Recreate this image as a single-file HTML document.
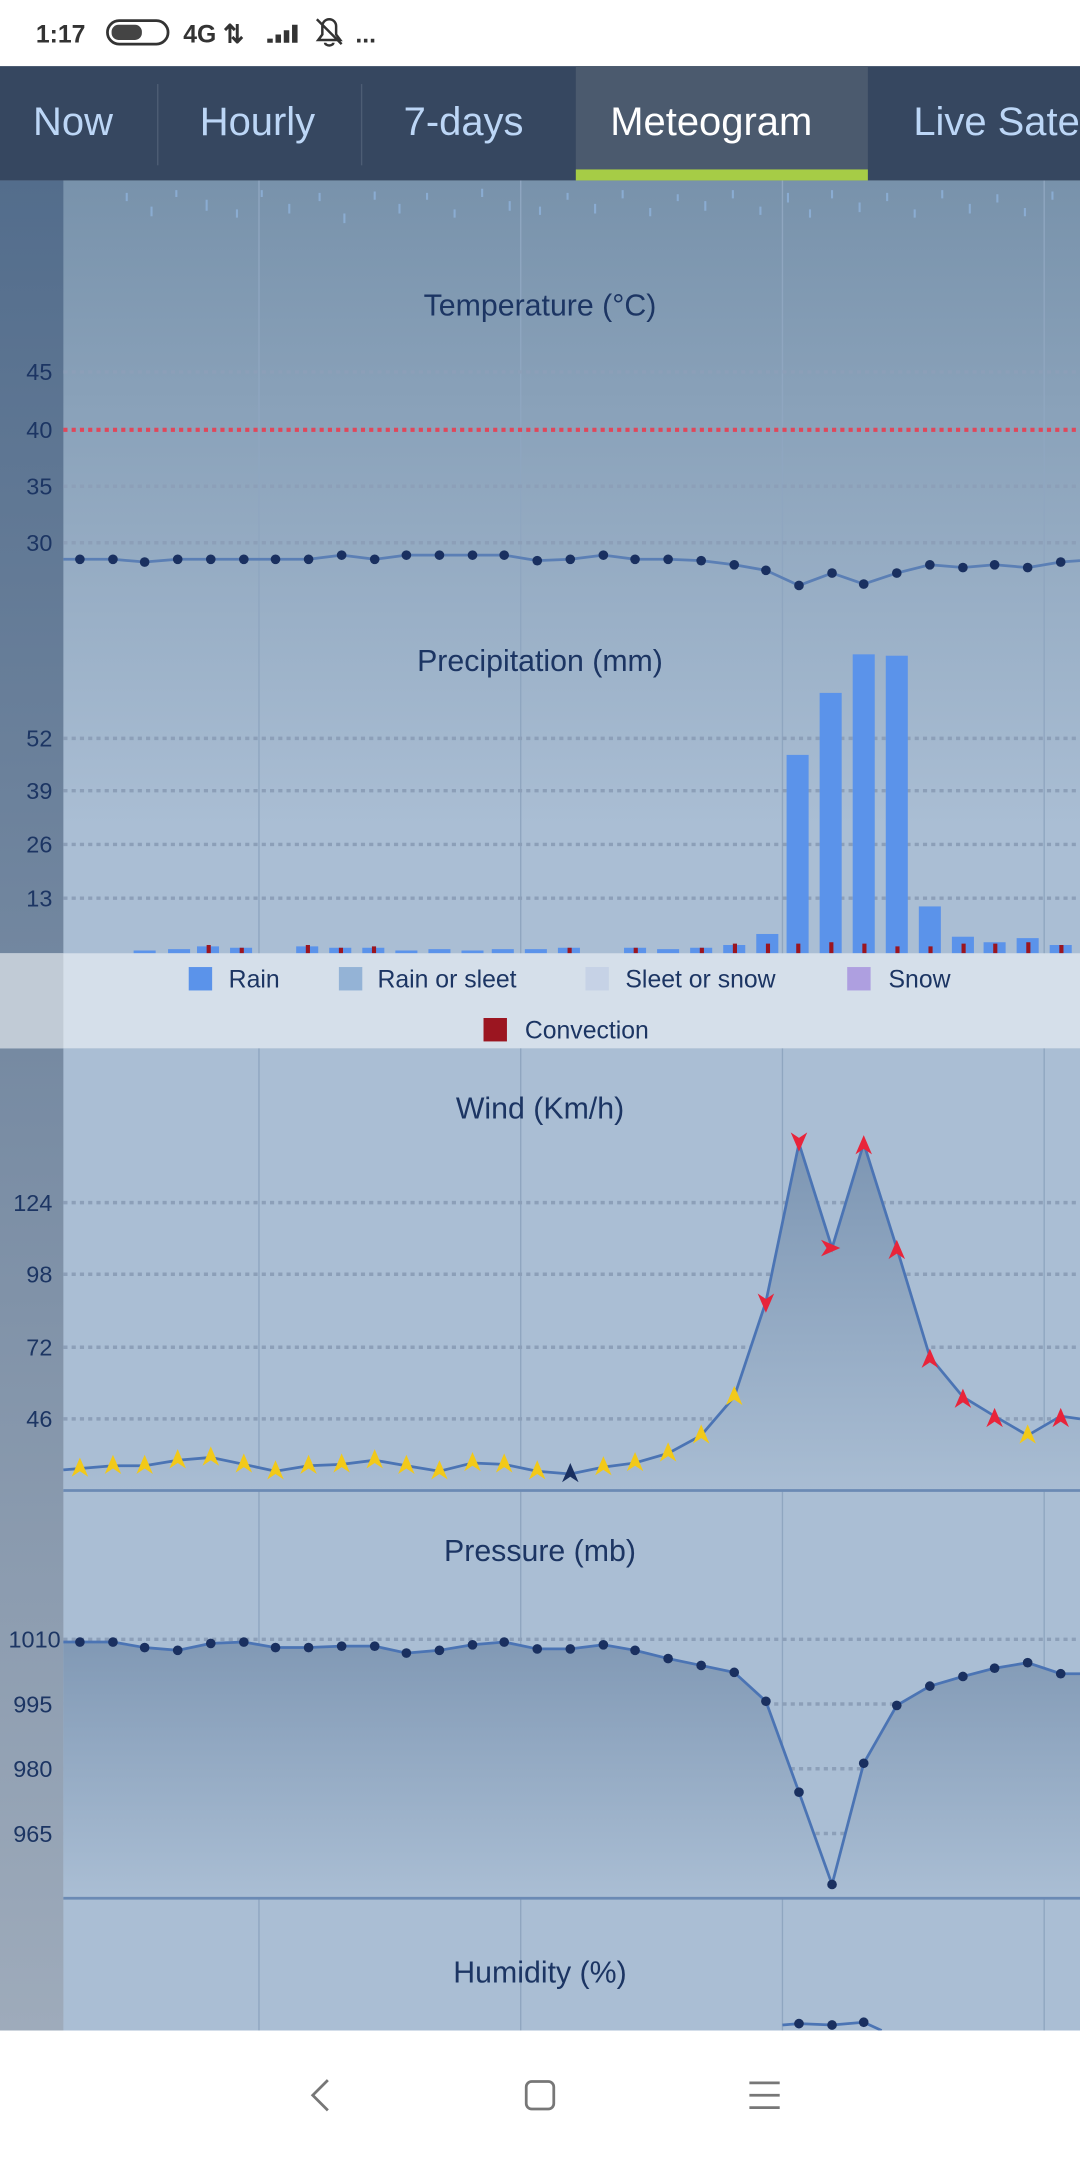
<!DOCTYPE html>
<html><head><meta charset="utf-8"><style>
html,body{margin:0;padding:0;background:#fff;}
svg{display:block;font-family:"Liberation Sans",sans-serif;}
</style></head><body>
<svg width="1080" height="2160" viewBox="0 0 784 1568" xmlns="http://www.w3.org/2000/svg">
<defs>
<linearGradient id="bg" x1="0" y1="0" x2="0" y2="1">
<stop offset="0" stop-color="#7892ab"/><stop offset="0.35" stop-color="#aabed4"/><stop offset="1" stop-color="#aabed4"/>
</linearGradient>
<linearGradient id="ax" x1="0" y1="0" x2="0" y2="1">
<stop offset="0" stop-color="#536d8c"/><stop offset="1" stop-color="#9eabbb"/>
</linearGradient>
<linearGradient id="wf" x1="0" y1="0" x2="0" y2="1">
<stop offset="0" stop-color="#7d96b3"/><stop offset="1" stop-color="#a9bdd3"/>
</linearGradient>
<linearGradient id="pf" x1="0" y1="0" x2="0" y2="1">
<stop offset="0" stop-color="#8199b5"/><stop offset="1" stop-color="#aabed4"/>
</linearGradient>
</defs>
<rect x="0" y="0" width="784" height="48" fill="#fff"/>
<text x="26" y="31" font-size="18" font-weight="bold" fill="#333">1:17</text>
<rect x="78" y="15" width="44" height="17" rx="8.5" fill="none" stroke="#333" stroke-width="2"/>
<rect x="81" y="18" width="22" height="11" rx="5" fill="#444"/>
<text x="133" y="31" font-size="18" font-weight="bold" fill="#333">4G</text>
<text x="162" y="31" font-size="18" font-weight="bold" fill="#333">⇅</text>
<path d="M194 31 h4 v-3 h-4z M200 31 h4 v-6 h-4z M206 31 h4 v-9 h-4z M212 31 h4 v-13 h-4z" fill="#333"/>
<path d="M231 29 h16 l-3-4 v-6 a5 5 0 0 0-10 0 v6z M236 31 a3 2 0 0 0 6 0 M230 14 l18 18" fill="none" stroke="#333" stroke-width="1.8"/>
<text x="258" y="31" font-size="18" font-weight="bold" fill="#333">...</text>
<rect x="0" y="131" width="784" height="1343" fill="url(#bg)"/>
<rect x="0" y="131" width="46" height="1343" fill="url(#ax)"/>
<rect x="0" y="48" width="784" height="83" fill="#364760"/>
<rect x="418" y="48" width="212" height="83" fill="#4b5a6e"/>
<rect x="418" y="123" width="212" height="8" fill="#a6cc46"/>
<line x1="114.5" y1="61" x2="114.5" y2="120" stroke="#4d5d74"/>
<line x1="262.5" y1="61" x2="262.5" y2="120" stroke="#4d5d74"/>
<g font-size="29" fill="#bcd6f6">
<text x="24" y="98">Now</text><text x="145" y="98">Hourly</text><text x="293" y="98">7-days</text>
<text x="443" y="98" fill="#fff">Meteogram</text><text x="663" y="98">Live Satellite</text>
</g>
<g stroke="#8fb3dc" stroke-width="1.5" opacity="0.8">
<path d="M92 140v6M110 150v7M128 138v5M150 145v8M172 152v6M190 138v5M210 148v7M232 140v6M250 155v7M272 139v6M290 148v7M310 140v5M330 152v6M350 137v6M370 146v7M392 150v6M412 140v5M432 148v7M452 138v6M472 151v6M492 141v5M512 146v7M532 138v6M552 150v6M572 140v7M588 152v6M604 138v6M624 147v7M644 140v6M664 152v6M684 138v6M704 148v7M724 141v6M744 151v6M764 139v6"/>
</g>
<g stroke="#8fa6c0" stroke-width="1">
<line x1="188" y1="131" x2="188" y2="1474"/><line x1="378" y1="131" x2="378" y2="1474"/>
<line x1="568" y1="131" x2="568" y2="1474"/><line x1="758" y1="131" x2="758" y2="1474"/>
</g>
<g font-size="22" fill="#1c3563" text-anchor="middle">
<text x="392" y="229">Temperature (°C)</text>
<text x="392" y="487">Precipitation (mm)</text>
<text x="392" y="812">Wind (Km/h)</text>
<text x="392" y="1133">Pressure (mb)</text>
<text x="392" y="1439">Humidity (%)</text>
</g>
<g stroke="#8c9fb8" stroke-width="2.5" stroke-dasharray="3 3">
<line x1="46" y1="270" x2="784" y2="270"/><line x1="46" y1="353" x2="784" y2="353"/><line x1="46" y1="394" x2="784" y2="394"/>
<line x1="46" y1="536" x2="784" y2="536"/><line x1="46" y1="574" x2="784" y2="574"/><line x1="46" y1="613" x2="784" y2="613"/><line x1="46" y1="652" x2="784" y2="652"/>
<line x1="46" y1="873" x2="784" y2="873"/><line x1="46" y1="925" x2="784" y2="925"/><line x1="46" y1="978" x2="784" y2="978"/><line x1="46" y1="1030" x2="784" y2="1030"/>
<line x1="46" y1="1190" x2="784" y2="1190"/><line x1="46" y1="1237" x2="784" y2="1237"/><line x1="46" y1="1284" x2="784" y2="1284"/><line x1="46" y1="1331" x2="784" y2="1331"/>
</g>
<line x1="46" y1="312" x2="784" y2="312" stroke="#e0475a" stroke-width="3" stroke-dasharray="3 3"/>
<g font-size="17" fill="#1c3563" text-anchor="end">
<text x="38" y="276">45</text><text x="38" y="318">40</text><text x="38" y="359">35</text><text x="38" y="400">30</text>
<text x="38" y="542">52</text><text x="38" y="580">39</text><text x="38" y="619">26</text><text x="38" y="658">13</text>
<text x="38" y="879">124</text><text x="38" y="931">98</text><text x="38" y="984">72</text><text x="38" y="1036">46</text>
<text x="44" y="1196">1010</text><text x="38" y="1243">995</text><text x="38" y="1290">980</text><text x="38" y="1337">965</text>
</g>
<polyline fill="none" stroke="#5b7fb5" stroke-width="2" points="46,406 58,406 82,406 105,408 129,406 153,406 177,406 200,406 224,406 248,403 272,406 295,403 319,403 343,403 366,403 390,407 414,406 438,403 461,406 485,406 509,407 533,410 556,414 580,425 604,416 627,424 651,416 675,410 699,412 722,410 746,412 770,408 784,407"/>
<g fill="#1a3060">
<circle cx="58" cy="406" r="3.5"/><circle cx="82" cy="406" r="3.5"/><circle cx="105" cy="408" r="3.5"/><circle cx="129" cy="406" r="3.5"/><circle cx="153" cy="406" r="3.5"/><circle cx="177" cy="406" r="3.5"/><circle cx="200" cy="406" r="3.5"/><circle cx="224" cy="406" r="3.5"/><circle cx="248" cy="403" r="3.5"/><circle cx="272" cy="406" r="3.5"/><circle cx="295" cy="403" r="3.5"/><circle cx="319" cy="403" r="3.5"/><circle cx="343" cy="403" r="3.5"/><circle cx="366" cy="403" r="3.5"/><circle cx="390" cy="407" r="3.5"/><circle cx="414" cy="406" r="3.5"/><circle cx="438" cy="403" r="3.5"/><circle cx="461" cy="406" r="3.5"/><circle cx="485" cy="406" r="3.5"/><circle cx="509" cy="407" r="3.5"/><circle cx="533" cy="410" r="3.5"/><circle cx="556" cy="414" r="3.5"/><circle cx="580" cy="425" r="3.5"/><circle cx="604" cy="416" r="3.5"/><circle cx="627" cy="424" r="3.5"/><circle cx="651" cy="416" r="3.5"/><circle cx="675" cy="410" r="3.5"/><circle cx="699" cy="412" r="3.5"/><circle cx="722" cy="410" r="3.5"/><circle cx="746" cy="412" r="3.5"/><circle cx="770" cy="408" r="3.5"/>
</g>
<g fill="#5b93ea">
<rect x="97" y="690" width="16" height="2"/><rect x="122" y="689" width="16" height="3"/><rect x="143" y="687" width="16" height="5"/><rect x="167" y="688" width="16" height="4"/>
<rect x="215" y="687" width="16" height="5"/><rect x="239" y="688" width="16" height="4"/><rect x="263" y="688" width="16" height="4"/><rect x="287" y="690" width="16" height="2"/>
<rect x="311" y="689" width="16" height="3"/><rect x="335" y="690" width="16" height="2"/><rect x="357" y="689" width="16" height="3"/><rect x="381" y="689" width="16" height="3"/><rect x="405" y="688" width="16" height="4"/>
<rect x="453" y="688" width="16" height="4"/><rect x="477" y="689" width="16" height="3"/><rect x="501" y="688" width="16" height="4"/><rect x="525" y="686" width="16" height="6"/><rect x="549" y="678" width="16" height="14"/>
<rect x="571" y="548" width="16" height="144"/><rect x="595" y="503" width="16" height="189"/><rect x="619" y="475" width="16" height="217"/><rect x="643" y="476" width="16" height="216"/>
<rect x="667" y="658" width="16" height="34"/><rect x="691" y="680" width="16" height="12"/><rect x="714" y="684" width="16" height="8"/><rect x="738" y="681" width="16" height="11"/><rect x="762" y="686" width="16" height="6"/>
</g>
<g fill="#9b1520">
<rect x="150" y="686" width="3" height="6"/><rect x="174" y="688" width="3" height="4"/><rect x="222" y="686" width="3" height="6"/><rect x="246" y="688" width="3" height="4"/><rect x="270" y="687" width="3" height="5"/>
<rect x="412" y="688" width="3" height="4"/><rect x="460" y="688" width="3" height="4"/><rect x="508" y="688" width="3" height="4"/><rect x="532" y="685" width="3" height="7"/><rect x="556" y="685" width="3" height="7"/>
<rect x="578" y="685" width="3" height="7"/><rect x="602" y="684" width="3" height="8"/><rect x="626" y="685" width="3" height="7"/><rect x="650" y="687" width="3" height="5"/><rect x="674" y="687" width="3" height="5"/>
<rect x="698" y="685" width="3" height="7"/><rect x="721" y="685" width="3" height="7"/><rect x="745" y="684" width="3" height="8"/><rect x="769" y="686" width="3" height="6"/>
</g>
<rect x="0" y="692" width="784" height="69" fill="#d5dfea"/>
<rect x="0" y="692" width="46" height="69" fill="#c1cbd6"/>
<rect x="137" y="702" width="17" height="17" fill="#5b93ea"/>
<rect x="246" y="702" width="17" height="17" fill="#94b3d6"/>
<rect x="425" y="702" width="17" height="17" fill="#c6d2e6"/>
<rect x="615" y="702" width="17" height="17" fill="#ae9fe0"/>
<rect x="351" y="739" width="17" height="17" fill="#9b1520"/>
<g font-size="18" fill="#1c3563">
<text x="166" y="717">Rain</text><text x="274" y="717">Rain or sleet</text><text x="454" y="717">Sleet or snow</text><text x="645" y="717">Snow</text>
<text x="381" y="754">Convection</text>
</g>
<path fill="url(#wf)" d="M46,1067 L58,1066 82,1064 105,1064 129,1060 153,1058 177,1063 200,1068 224,1064 248,1063 272,1060 295,1064 319,1068 343,1062 366,1063 390,1068 414,1070 438,1065 461,1062 485,1055 509,1042 533,1014 556,945 580,830 604,906 627,830 651,906 675,985 699,1014 722,1028 746,1042 770,1028 784,1030 L784,1082 L46,1082Z"/>
<polyline fill="none" stroke="#4b74b4" stroke-width="2" points="46,1067 58,1066 82,1064 105,1064 129,1060 153,1058 177,1063 200,1068 224,1064 248,1063 272,1060 295,1064 319,1068 343,1062 366,1063 390,1068 414,1070 438,1065 461,1062 485,1055 509,1042 533,1014 556,945 580,830 604,906 627,830 651,906 675,985 699,1014 722,1028 746,1042 770,1028 784,1030"/>
<line x1="46" y1="1082" x2="784" y2="1082" stroke="#6b8ab4" stroke-width="2"/>
<g fill="#f2c919">
<path d="M52,1072 L58,1058 64,1072 58,1068Z"/><path d="M76,1070 L82,1056 88,1070 82,1066Z"/><path d="M99,1070 L105,1056 111,1070 105,1066Z"/><path d="M123,1066 L129,1052 135,1066 129,1062Z"/><path d="M147,1064 L153,1050 159,1064 153,1060Z"/>
<path d="M171,1069 L177,1055 183,1069 177,1065Z"/><path d="M194,1074 L200,1060 206,1074 200,1070Z"/><path d="M218,1070 L224,1056 230,1070 224,1066Z"/><path d="M242,1069 L248,1055 254,1069 248,1065Z"/><path d="M266,1066 L272,1052 278,1066 272,1062Z"/>
<path d="M289,1070 L295,1056 301,1070 295,1066Z"/><path d="M313,1074 L319,1060 325,1074 319,1070Z"/><path d="M337,1068 L343,1054 349,1068 343,1064Z"/><path d="M360,1069 L366,1055 372,1069 366,1065Z"/><path d="M384,1074 L390,1060 396,1074 390,1070Z"/>
<path d="M432,1071 L438,1057 444,1071 438,1067Z"/><path d="M455,1068 L461,1054 467,1068 461,1064Z"/><path d="M479,1061 L485,1047 491,1061 485,1057Z"/><path d="M503,1048 L509,1034 515,1048 509,1044Z"/><path d="M527,1020 L533,1006 539,1020 533,1016Z"/>
<path d="M740,1048 L746,1034 752,1048 746,1044Z"/>
</g>
<path d="M408,1076 L414,1062 420,1076 414,1072Z" fill="#1a3060"/>
<g fill="#e8243a">
<path d="M550,939 L556,953 562,939 556,943Z"/><path d="M574,822 L580,836 586,822 580,826Z"/><path d="M596,900 L610,906 596,912 600,906Z"/><path d="M621,838 L627,824 633,838 627,834Z"/>
<path d="M645,914 L651,900 657,914 651,910Z"/><path d="M669,993 L675,979 681,993 675,989Z"/><path d="M693,1022 L699,1008 705,1022 699,1018Z"/><path d="M716,1036 L722,1022 728,1036 722,1032Z"/><path d="M764,1036 L770,1022 776,1036 770,1032Z"/>
</g>
<path fill="url(#pf)" d="M46,1192 L58,1192 82,1192 105,1196 129,1198 153,1193 177,1192 200,1196 224,1196 248,1195 272,1195 295,1200 319,1198 343,1194 366,1192 390,1197 414,1197 438,1194 461,1198 485,1204 509,1209 533,1214 556,1235 580,1301 604,1368 627,1280 651,1238 675,1224 699,1217 722,1211 746,1207 770,1215 784,1215 L784,1378 L46,1378Z"/>
<polyline fill="none" stroke="#4b74b4" stroke-width="2" points="46,1192 58,1192 82,1192 105,1196 129,1198 153,1193 177,1192 200,1196 224,1196 248,1195 272,1195 295,1200 319,1198 343,1194 366,1192 390,1197 414,1197 438,1194 461,1198 485,1204 509,1209 533,1214 556,1235 580,1301 604,1368 627,1280 651,1238 675,1224 699,1217 722,1211 746,1207 770,1215 784,1215"/>
<line x1="46" y1="1378" x2="784" y2="1378" stroke="#6b8ab4" stroke-width="2"/>
<g fill="#1a3060">
<circle cx="58" cy="1192" r="3.5"/><circle cx="82" cy="1192" r="3.5"/><circle cx="105" cy="1196" r="3.5"/><circle cx="129" cy="1198" r="3.5"/><circle cx="153" cy="1193" r="3.5"/><circle cx="177" cy="1192" r="3.5"/><circle cx="200" cy="1196" r="3.5"/><circle cx="224" cy="1196" r="3.5"/><circle cx="248" cy="1195" r="3.5"/><circle cx="272" cy="1195" r="3.5"/><circle cx="295" cy="1200" r="3.5"/><circle cx="319" cy="1198" r="3.5"/><circle cx="343" cy="1194" r="3.5"/><circle cx="366" cy="1192" r="3.5"/><circle cx="390" cy="1197" r="3.5"/><circle cx="414" cy="1197" r="3.5"/><circle cx="438" cy="1194" r="3.5"/><circle cx="461" cy="1198" r="3.5"/><circle cx="485" cy="1204" r="3.5"/><circle cx="509" cy="1209" r="3.5"/><circle cx="533" cy="1214" r="3.5"/><circle cx="556" cy="1235" r="3.5"/><circle cx="580" cy="1301" r="3.5"/><circle cx="604" cy="1368" r="3.5"/><circle cx="627" cy="1280" r="3.5"/><circle cx="651" cy="1238" r="3.5"/><circle cx="675" cy="1224" r="3.5"/><circle cx="699" cy="1217" r="3.5"/><circle cx="722" cy="1211" r="3.5"/><circle cx="746" cy="1207" r="3.5"/><circle cx="770" cy="1215" r="3.5"/>
</g>
<polyline fill="none" stroke="#4b74b4" stroke-width="2" points="568,1470 580,1469 604,1470 627,1468 640,1474"/>
<g fill="#1a3060"><circle cx="580" cy="1469" r="3.5"/><circle cx="604" cy="1470" r="3.5"/><circle cx="627" cy="1468" r="3.5"/></g>
<rect x="0" y="1474" width="784" height="94" fill="#fff"/>
<path d="M238,1510 L227,1521 238,1532" fill="none" stroke="#777" stroke-width="2"/>
<rect x="382" y="1511" width="20" height="20" rx="4" fill="none" stroke="#777" stroke-width="2"/>
<path d="M544,1512 h22 M544,1521 h22 M544,1530 h22" stroke="#777" stroke-width="2"/>
</svg>
</body></html>
